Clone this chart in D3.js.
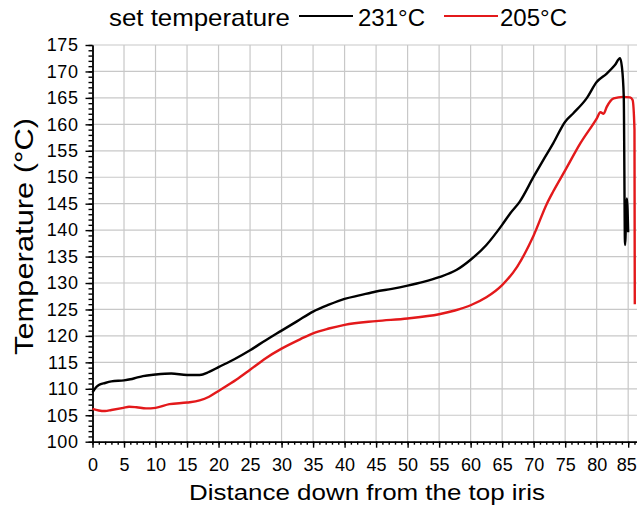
<!doctype html>
<html>
<head>
<meta charset="utf-8">
<script src="https://d3js.org/d3.v7.min.js"></script>
<style>
  body { margin: 0; background: #fff; }
  text { font-family: "Liberation Sans", Arial, sans-serif; fill: #000; }
  .grid line { stroke: #c8c8c8; stroke-width: 1.2; }
  .axis path, .axis line { stroke: #000; stroke-width: 1.4; }
</style>
</head>
<body>
<svg width="637" height="506"></svg>
<script>
// distance (x) and temperature (°C)
var blackX = [0, 0.5, 1, 2, 3, 5, 6, 7, 8, 10, 12.5, 15, 17, 18.5, 20, 22.5, 25, 27.5, 30, 32.5, 35, 37.5, 40, 42.5, 45, 47.5, 50, 52.5, 55, 57.8, 60, 62.5, 65, 66.3, 67.8, 70, 71.5, 73.1, 75, 76.3, 78.4, 80, 81.6, 82.9, 83.7, 84.0, 84.3, 84.5, 84.8, 85.0];
var blackY = [109.3, 110.2, 110.7, 111.1, 111.4, 111.6, 111.8, 112.1, 112.4, 112.7, 112.9, 112.6, 112.6, 113.2, 114.1, 115.6, 117.3, 119.2, 121.0, 122.8, 124.6, 125.9, 127.0, 127.7, 128.4, 128.9, 129.5, 130.2, 131.1, 132.5, 134.4, 137.2, 141.0, 143.2, 145.4, 150.1, 153.2, 156.4, 160.5, 162.1, 164.9, 168.0, 169.6, 171.2, 172.5, 170.9, 165.2, 137.2, 146.0, 139.6];

var redX = [0, 1, 2, 3, 4.9, 5.8, 7, 8.5, 10, 12.2, 15, 17, 18.5, 20, 22.8, 25, 27.5, 30, 33, 35, 37.5, 40, 45, 50, 55, 57.5, 60, 62.5, 65, 67.4, 70, 72.1, 73.1, 75, 77.4, 80, 80.6, 81.1, 81.6, 82.7, 84.2, 85.3, 85.7, 86.0, 86.05];
var redY = [106.2, 105.9, 105.8, 106.0, 106.4, 106.6, 106.5, 106.3, 106.4, 107.1, 107.4, 107.8, 108.5, 109.6, 111.7, 113.6, 115.8, 117.6, 119.4, 120.5, 121.4, 122.1, 122.8, 123.3, 124.1, 124.8, 125.8, 127.3, 129.6, 133.1, 139.0, 145.0, 147.3, 151.3, 156.4, 161.1, 162.3, 162.0, 163.3, 164.9, 165.2, 165.1, 164.6, 159.0, 126.0];

var xTicks = d3.range(0, 86, 5);
var yTicks = d3.range(100, 176, 5);
var legendNames = ["231°C", "205°C"];
var legendColors = ["#000000", "#e3191b"];

var svg = d3.select("svg");

var x = d3.scaleLinear().domain([0, 86.4]).range([92.5, 637]);
var y = d3.scaleLinear().domain([100, 175]).range([441.7, 45]);

// grid
var grid = svg.append("g").attr("class", "grid");
grid.selectAll(".gx").data(xTicks.slice(1)).enter().append("line")
    .attr("x1", function(d) { return x(d); }).attr("x2", function(d) { return x(d); })
    .attr("y1", y(100)).attr("y2", y(175));
grid.selectAll(".gy").data(yTicks.slice(1)).enter().append("line")
    .attr("x1", x(0)).attr("x2", 637)
    .attr("y1", function(d) { return y(d); }).attr("y2", function(d) { return y(d); });

// minor ticks
svg.append("g").attr("class", "axis")
   .attr("transform", "translate(0," + y(100) + ")")
   .call(d3.axisBottom(x).tickValues(d3.range(0, 87, 1)).tickSize(3).tickSizeOuter(0).tickFormat(""));
svg.append("g").attr("class", "axis")
   .attr("transform", "translate(" + x(0) + ",0)")
   .call(d3.axisLeft(y).tickValues(d3.range(100, 176, 1)).tickSize(4).tickSizeOuter(0).tickFormat(""));

// major axes
var xAxis = svg.append("g").attr("class", "axis")
   .attr("transform", "translate(0," + y(100) + ")")
   .call(d3.axisBottom(x).tickValues(xTicks).tickSize(6).tickSizeOuter(0).tickPadding(11));
xAxis.selectAll("text").attr("font-size", "18px")
     .style("font-family", "'Liberation Sans', Arial, sans-serif")
     .attr("dx", function(d) { return d === 85 ? -2 : 0; });

var yAxis = svg.append("g").attr("class", "axis")
   .attr("transform", "translate(" + x(0) + ",0)")
   .call(d3.axisLeft(y).tickValues(yTicks).tickSize(7).tickSizeOuter(0).tickPadding(7));
yAxis.selectAll("text").attr("font-size", "18px").attr("letter-spacing", "0.6px")
     .style("font-family", "'Liberation Sans', Arial, sans-serif");

// lines
var line = d3.line()
    .x(function(d) { return x(d[0]); })
    .y(function(d) { return y(d[1]); })
    .curve(d3.curveMonotoneX);

svg.append("path")
   .datum(d3.zip(redX, redY))
   .attr("fill", "none").attr("stroke", legendColors[1]).attr("stroke-width", 2.4)
   .attr("stroke-linejoin", "round")
   .attr("d", line);
svg.append("path")
   .datum(d3.zip(blackX, blackY))
   .attr("fill", "none").attr("stroke", legendColors[0]).attr("stroke-width", 2.4)
   .attr("stroke-linejoin", "round")
   .attr("d", line);

// axis titles
svg.append("text")
   .attr("x", 189).attr("y", 500)
   .attr("font-size", "22px")
   .attr("textLength", 356).attr("lengthAdjust", "spacingAndGlyphs")
   .text("Distance down from the top iris");

svg.append("text")
   .attr("transform", "translate(33,355) rotate(-90)")
   .attr("font-size", "25px")
   .attr("textLength", 237).attr("lengthAdjust", "spacingAndGlyphs")
   .text("Temperature (°C)");

// legend
svg.append("text")
   .attr("x", 109).attr("y", 26)
   .attr("font-size", "24px")
   .attr("textLength", 181).attr("lengthAdjust", "spacingAndGlyphs")
   .text("set temperature");

var legX = [299, 444];
var legTextX = [358, 500];
legendNames.forEach(function(name, i) {
    svg.append("line")
       .attr("x1", legX[i]).attr("x2", legX[i] + 54)
       .attr("y1", 16).attr("y2", 16)
       .attr("stroke", legendColors[i]).attr("stroke-width", 2.2);
    svg.append("text")
       .attr("x", legTextX[i]).attr("y", 26)
       .attr("font-size", "24px")
       .attr("textLength", 67).attr("lengthAdjust", "spacingAndGlyphs")
       .text(name);
});
</script>
</body>
</html>
